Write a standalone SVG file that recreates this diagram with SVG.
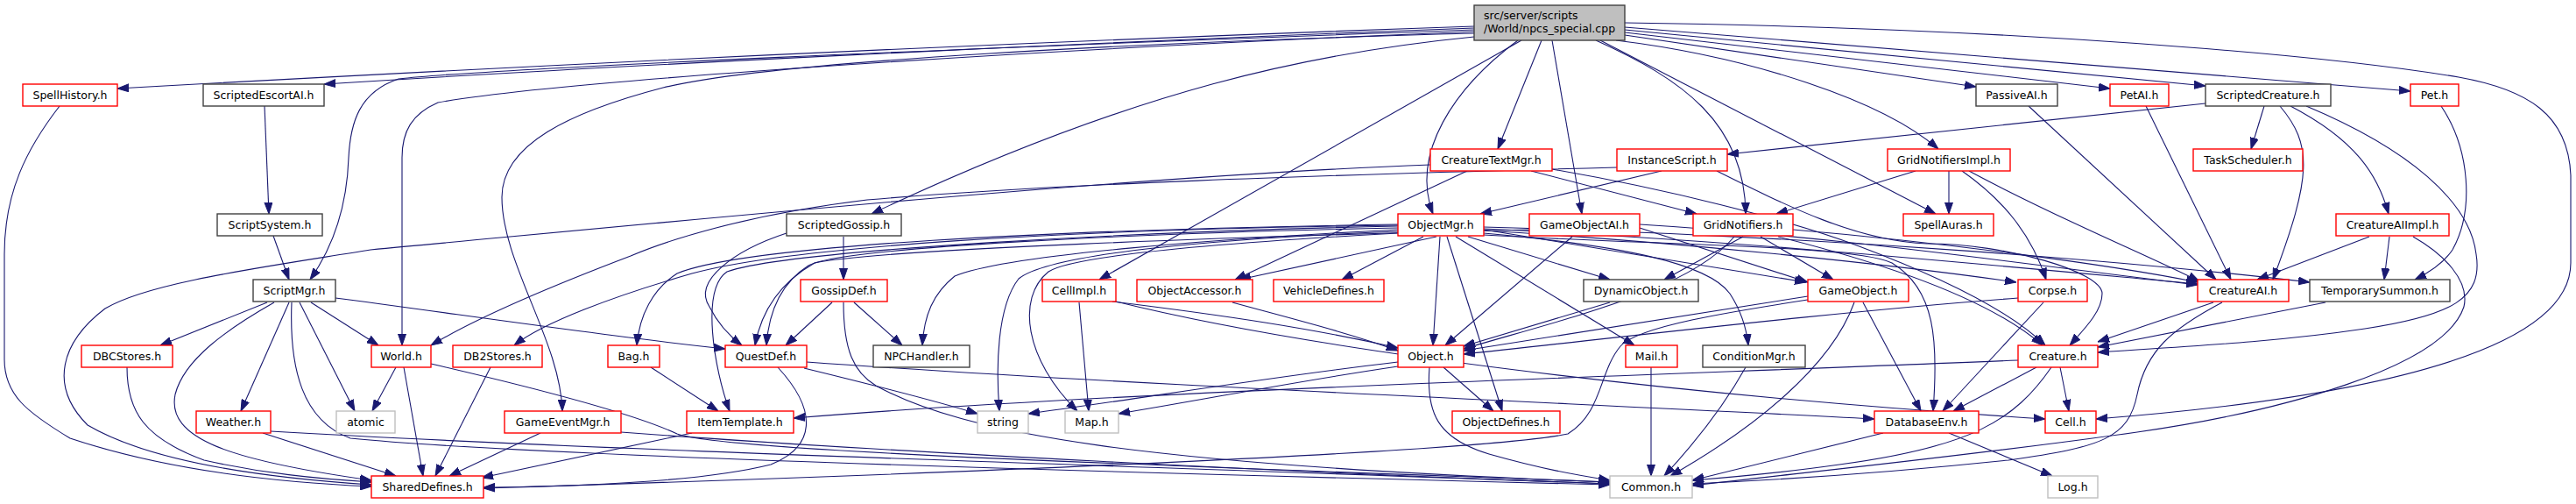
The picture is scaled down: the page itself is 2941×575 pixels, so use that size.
<svg xmlns="http://www.w3.org/2000/svg" width="2941" height="575" viewBox="0 0 2941 575">
<style>
rect{fill:#fff;stroke-width:1.4}
.k{stroke:#404040}.r{stroke:#ff0000}.g{stroke:#bfbfbf}
.root{fill:#bfbfbf;stroke:#404040}
text{font-family:"DejaVu Sans","Liberation Sans",sans-serif;font-size:12.5px;text-anchor:middle;fill:#000}
.lt{text-anchor:start}
#edges path{fill:none;stroke:#191970;stroke-width:1.1;marker-end:url(#a)}
</style>
<defs>
<marker id="a" markerWidth="13" markerHeight="10" refX="13" refY="5" orient="auto" markerUnits="userSpaceOnUse"><path d="M0,0.5 L13,5 L0,9.5 z" fill="#191970" stroke="#191970" stroke-width="1"/></marker>
</defs>
<rect x="0" y="0" width="2941" height="575" style="fill:#fff;stroke:none"/>
<g id="edges">
<path d="M1683,30 C1100,50 600,75 134,101"/>
<path d="M1683,32 C1200,50 700,75 370,96"/>
<path d="M1683,34 C1100,55 560,78 455,90 C410,105 400,140 398,180 C396,240 378,285 354,319"/>
<path d="M1683,36 C1100,60 620,95 500,117 C470,130 459,150 459,180 L459,394"/>
<path d="M1683,38 C1300,48 880,70 757,100 C650,128 573,165 573,225 C573,300 640,390 642,469"/>
<path d="M1683,42 C1500,60 1300,100 995,244"/>
<path d="M1737,46 L1255,319"/>
<path d="M1733,46 C1660,100 1610,175 1636,244"/>
<path d="M1760,46 L1710,170"/>
<path d="M1772,46 L1806,244"/>
<path d="M1822,46 C1920,90 1992,140 1993,244"/>
<path d="M1827,46 L2210,244"/>
<path d="M1845,46 C2000,65 2150,115 2213,170"/>
<path d="M1855,40 L2256,99"/>
<path d="M1855,37 L2409,101"/>
<path d="M1855,34 L2518,98"/>
<path d="M1855,31 L2752,104"/>
<path d="M1855,26 C2300,32 2650,62 2807,88 C2885,102 2932,130 2935,200 L2935,300 C2935,390 2750,450 2393,478"/>
<path d="M68,121 C30,170 5,220 5,290 L5,410 C5,450 30,470 80,500 C200,540 330,551 424,555"/>
<path d="M302,121 L307,244"/>
<path d="M312,269 L330,319"/>
<path d="M1633,188 C1300,200 800,250 423,285 C300,305 170,322 120,352 C70,390 55,440 100,485 C180,532 330,547 424,553"/>
<path d="M1675,195 L1410,319"/>
<path d="M1748,195 L1937,244"/>
<path d="M1772,193 C1900,215 2040,250 2120,280 C2200,310 2290,350 2335,394"/>
<path d="M1846,191 C1500,200 1200,210 990,228 C850,245 760,275 720,292 C620,330 540,365 492,394"/>
<path d="M1897,195 L1690,244"/>
<path d="M1960,195 C2040,235 2120,275 2200,278 C2290,278 2400,310 2400,335 C2400,355 2380,375 2363,394"/>
<path d="M2187,195 L2028,244"/>
<path d="M2225,195 L2225,244"/>
<path d="M2240,195 C2290,230 2320,270 2336,319"/>
<path d="M2248,195 C2350,250 2450,290 2511,321"/>
<path d="M2316,121 L2530,319"/>
<path d="M2450,121 L2547,319"/>
<path d="M2585,121 L2570,170"/>
<path d="M2603,121 C2640,165 2640,200 2595,319"/>
<path d="M2615,121 C2690,160 2715,200 2727,244"/>
<path d="M2633,121 C2750,170 2820,230 2827,290 C2835,340 2800,360 2700,375 C2600,390 2500,395 2395,402"/>
<path d="M2518,118 L1972,176"/>
<path d="M2787,121 C2820,170 2825,240 2800,285 C2790,300 2775,310 2757,319"/>
<path d="M2705,270 L2577,319"/>
<path d="M2728,270 L2722,319"/>
<path d="M2755,270 C2790,290 2820,320 2813,350 C2790,420 2600,470 2440,493 C2250,520 2050,540 1932,554"/>
<path d="M2527,345 L2395,390"/>
<path d="M2537,345 C2480,375 2450,400 2440,450 C2430,500 2400,510 2293,525 C2150,540 2020,548 1932,552"/>
<path d="M2655,345 L2395,396"/>
<path d="M2304,411 C1900,428 1300,445 906,477"/>
<path d="M2325,419 L2230,469"/>
<path d="M2352,419 L2362,469"/>
<path d="M2342,419 C2300,480 2250,510 2100,530 C2030,540 1970,545 1932,548"/>
<path d="M2304,340 C2100,355 1850,385 1671,404"/>
<path d="M2333,345 L2218,469"/>
<path d="M2064,338 L1671,400"/>
<path d="M2127,345 L2193,469"/>
<path d="M2064,342 C1980,355 1870,372 1850,395 C1825,425 1830,470 1790,495 C1700,515 1100,540 552,557"/>
<path d="M2117,345 C2090,420 2000,490 1907,543"/>
<path d="M1838,345 L1671,395"/>
<path d="M1795,270 L1650,394"/>
<path d="M1872,260 L2064,322"/>
<path d="M1872,256 C2100,270 2300,300 2509,325"/>
<path d="M1746,262 C1400,270 1000,285 930,300 C895,320 870,350 862,394"/>
<path d="M1980,270 C1930,330 1800,360 1671,398"/>
<path d="M1990,270 L1900,319"/>
<path d="M2010,270 L2093,319"/>
<path d="M2030,270 C2150,300 2270,340 2332,394"/>
<path d="M2047,262 C2200,275 2400,300 2509,322"/>
<path d="M1596,256 C1200,262 850,280 773,312 C745,330 730,360 727,394"/>
<path d="M1596,260 C1300,266 960,282 923,303 C893,322 878,352 875,394"/>
<path d="M1596,258 C1300,264 900,285 830,310 C800,330 815,420 833,469"/>
<path d="M1596,257 C1200,262 900,282 790,312 C700,338 620,368 587,394"/>
<path d="M1596,262 C1400,272 1150,290 1090,315 C1065,335 1055,360 1053,394"/>
<path d="M1596,264 C1400,272 1200,288 1163,318 C1138,350 1137,420 1141,469"/>
<path d="M1596,266 C1450,274 1230,288 1197,310 C1160,340 1170,410 1230,469"/>
<path d="M1640,270 L1415,319"/>
<path d="M1625,270 L1532,319"/>
<path d="M1644,270 L1636,394"/>
<path d="M1652,270 L1715,469"/>
<path d="M1662,270 L1866,394"/>
<path d="M1676,270 L1838,319"/>
<path d="M1694,266 C1850,280 1950,300 1975,335 C1988,355 1994,375 1996,394"/>
<path d="M1694,262 L2062,322"/>
<path d="M1694,263 C1900,275 2150,300 2302,322"/>
<path d="M1694,261 C2000,275 2300,305 2509,324"/>
<path d="M1694,259 C2100,270 2450,300 2637,322"/>
<path d="M1694,268 C1900,280 2120,280 2160,300 C2210,330 2213,390 2207,469"/>
<path d="M1232,345 L1243,469"/>
<path d="M1270,344 C1400,360 1500,375 1596,397"/>
<path d="M1274,344 C1500,400 1900,450 2335,478"/>
<path d="M1407,345 C1480,365 1540,380 1596,400"/>
<path d="M1596,413 C1450,430 1300,455 1174,472"/>
<path d="M1596,418 C1480,435 1380,455 1277,472"/>
<path d="M1648,419 L1705,469"/>
<path d="M1632,419 C1628,470 1640,500 1700,518 C1760,535 1800,542 1838,548"/>
<path d="M1885,419 L1885,543"/>
<path d="M1993,419 C1970,460 1940,500 1900,543"/>
<path d="M2150,494 L1932,548"/>
<path d="M2225,494 L2343,543"/>
<path d="M452,419 L425,469"/>
<path d="M461,419 L483,543"/>
<path d="M492,415 C600,440 720,470 773,495 C830,515 1300,530 1838,550"/>
<path d="M300,494 L452,543"/>
<path d="M309,492 C700,515 1400,535 1838,552"/>
<path d="M305,345 L183,394"/>
<path d="M313,345 C260,375 210,410 200,450 C190,500 260,525 424,548"/>
<path d="M330,345 L275,469"/>
<path d="M333,345 C330,420 345,480 400,500 C600,520 1300,540 1838,553"/>
<path d="M342,345 L405,469"/>
<path d="M355,345 L432,394"/>
<path d="M383,340 C500,355 700,385 828,398"/>
<path d="M145,419 C145,470 165,500 233,525 C300,540 360,546 424,550"/>
<path d="M560,419 L497,543"/>
<path d="M617,494 L513,543"/>
<path d="M709,493 C1000,515 1500,540 1838,552"/>
<path d="M790,494 L550,545"/>
<path d="M743,419 L820,469"/>
<path d="M888,419 C935,470 930,510 880,530 C800,550 650,555 552,556"/>
<path d="M921,413 C1300,440 1800,460 2140,478"/>
<path d="M918,420 C1000,440 1060,455 1116,472"/>
<path d="M950,345 L897,394"/>
<path d="M975,345 L1030,394"/>
<path d="M963,345 C963,400 975,425 1000,440 C1100,495 1300,530 1838,550"/>
<path d="M963,270 L963,319"/>
<path d="M898,266 C840,285 790,320 810,350 C820,370 835,385 847,394"/>
</g>
<g id="n_root"><rect class="root" x="1683" y="6" width="172" height="40"/><text class="lt" x="1694" y="22">src/server/scripts</text><text class="lt" x="1694" y="37">/World/npcs_special.cpp</text></g>
<g id="n_SpellHistory"><rect class="r" x="26" y="96" width="108" height="25"/><text x="80" y="112.5">SpellHistory.h</text></g>
<g id="n_ScriptedEscortAI"><rect class="k" x="232" y="96" width="138" height="25"/><text x="301" y="112.5">ScriptedEscortAI.h</text></g>
<g id="n_PassiveAI"><rect class="k" x="2256" y="96" width="93" height="25"/><text x="2302.5" y="112.5">PassiveAI.h</text></g>
<g id="n_PetAI"><rect class="r" x="2409" y="96" width="67" height="25"/><text x="2442.5" y="112.5">PetAI.h</text></g>
<g id="n_ScriptedCreature"><rect class="k" x="2518" y="96" width="143" height="25"/><text x="2589.5" y="112.5">ScriptedCreature.h</text></g>
<g id="n_Pet"><rect class="r" x="2752" y="96" width="55" height="25"/><text x="2779.5" y="112.5">Pet.h</text></g>
<g id="n_CreatureTextMgr"><rect class="r" x="1633" y="170" width="139" height="25"/><text x="1702.5" y="186.5">CreatureTextMgr.h</text></g>
<g id="n_InstanceScript"><rect class="r" x="1846" y="170" width="126" height="25"/><text x="1909" y="186.5">InstanceScript.h</text></g>
<g id="n_GridNotifiersImpl"><rect class="r" x="2155" y="170" width="140" height="25"/><text x="2225" y="186.5">GridNotifiersImpl.h</text></g>
<g id="n_TaskScheduler"><rect class="r" x="2504" y="170" width="125" height="25"/><text x="2566.5" y="186.5">TaskScheduler.h</text></g>
<g id="n_ScriptSystem"><rect class="k" x="248" y="244" width="120" height="25"/><text x="308" y="260.5">ScriptSystem.h</text></g>
<g id="n_ScriptedGossip"><rect class="k" x="898" y="244" width="131" height="25"/><text x="963.5" y="260.5">ScriptedGossip.h</text></g>
<g id="n_ObjectMgr"><rect class="r" x="1596" y="244" width="98" height="25"/><text x="1645" y="260.5">ObjectMgr.h</text></g>
<g id="n_GameObjectAI"><rect class="r" x="1746" y="244" width="126" height="25"/><text x="1809" y="260.5">GameObjectAI.h</text></g>
<g id="n_GridNotifiers"><rect class="r" x="1933" y="244" width="114" height="25"/><text x="1990" y="260.5">GridNotifiers.h</text></g>
<g id="n_SpellAuras"><rect class="r" x="2173" y="244" width="103" height="25"/><text x="2224.5" y="260.5">SpellAuras.h</text></g>
<g id="n_CreatureAIImpl"><rect class="r" x="2667" y="244" width="129" height="25"/><text x="2731.5" y="260.5">CreatureAIImpl.h</text></g>
<g id="n_ScriptMgr"><rect class="k" x="289" y="319" width="94" height="25"/><text x="336" y="335.5">ScriptMgr.h</text></g>
<g id="n_GossipDef"><rect class="r" x="914" y="319" width="99" height="25"/><text x="963.5" y="335.5">GossipDef.h</text></g>
<g id="n_CellImpl"><rect class="r" x="1190" y="319" width="84" height="25"/><text x="1232" y="335.5">CellImpl.h</text></g>
<g id="n_ObjectAccessor"><rect class="r" x="1298" y="319" width="132" height="25"/><text x="1364" y="335.5">ObjectAccessor.h</text></g>
<g id="n_VehicleDefines"><rect class="r" x="1454" y="319" width="126" height="25"/><text x="1517" y="335.5">VehicleDefines.h</text></g>
<g id="n_DynamicObject"><rect class="k" x="1808" y="319" width="131" height="25"/><text x="1873.5" y="335.5">DynamicObject.h</text></g>
<g id="n_GameObject"><rect class="r" x="2064" y="319" width="115" height="25"/><text x="2121.5" y="335.5">GameObject.h</text></g>
<g id="n_Corpse"><rect class="r" x="2304" y="319" width="79" height="25"/><text x="2343.5" y="335.5">Corpse.h</text></g>
<g id="n_CreatureAI"><rect class="r" x="2509" y="319" width="104" height="25"/><text x="2561" y="335.5">CreatureAI.h</text></g>
<g id="n_TemporarySummon"><rect class="k" x="2637" y="319" width="160" height="25"/><text x="2717" y="335.5">TemporarySummon.h</text></g>
<g id="n_DBCStores"><rect class="r" x="93" y="394" width="104" height="25"/><text x="145" y="410.5">DBCStores.h</text></g>
<g id="n_World"><rect class="r" x="424" y="394" width="68" height="25"/><text x="458" y="410.5">World.h</text></g>
<g id="n_DB2Stores"><rect class="r" x="517" y="394" width="102" height="25"/><text x="568" y="410.5">DB2Stores.h</text></g>
<g id="n_Bag"><rect class="r" x="694" y="394" width="59" height="25"/><text x="723.5" y="410.5">Bag.h</text></g>
<g id="n_QuestDef"><rect class="r" x="828" y="394" width="93" height="25"/><text x="874.5" y="410.5">QuestDef.h</text></g>
<g id="n_NPCHandler"><rect class="k" x="997" y="394" width="110" height="25"/><text x="1052" y="410.5">NPCHandler.h</text></g>
<g id="n_Object"><rect class="r" x="1596" y="394" width="75" height="25"/><text x="1633.5" y="410.5">Object.h</text></g>
<g id="n_Mail"><rect class="r" x="1856" y="394" width="59" height="25"/><text x="1885.5" y="410.5">Mail.h</text></g>
<g id="n_ConditionMgr"><rect class="k" x="1944" y="394" width="117" height="25"/><text x="2002.5" y="410.5">ConditionMgr.h</text></g>
<g id="n_Creature"><rect class="r" x="2304" y="394" width="91" height="25"/><text x="2349.5" y="410.5">Creature.h</text></g>
<g id="n_Weather"><rect class="r" x="224" y="469" width="85" height="25"/><text x="266.5" y="485.5">Weather.h</text></g>
<g id="n_atomic"><rect class="g" x="384" y="469" width="67" height="25"/><text x="417.5" y="485.5">atomic</text></g>
<g id="n_GameEventMgr"><rect class="r" x="576" y="469" width="133" height="25"/><text x="642.5" y="485.5">GameEventMgr.h</text></g>
<g id="n_ItemTemplate"><rect class="r" x="784" y="469" width="122" height="25"/><text x="845" y="485.5">ItemTemplate.h</text></g>
<g id="n_string"><rect class="g" x="1116" y="469" width="58" height="25"/><text x="1145" y="485.5">string</text></g>
<g id="n_Map"><rect class="g" x="1216" y="469" width="61" height="25"/><text x="1246.5" y="485.5">Map.h</text></g>
<g id="n_ObjectDefines"><rect class="r" x="1658" y="469" width="123" height="25"/><text x="1719.5" y="485.5">ObjectDefines.h</text></g>
<g id="n_DatabaseEnv"><rect class="r" x="2140" y="469" width="119" height="25"/><text x="2199.5" y="485.5">DatabaseEnv.h</text></g>
<g id="n_Cell"><rect class="r" x="2335" y="469" width="58" height="25"/><text x="2364" y="485.5">Cell.h</text></g>
<g id="n_SharedDefines"><rect class="r" x="424" y="543" width="128" height="25"/><text x="488" y="559.5">SharedDefines.h</text></g>
<g id="n_Common"><rect class="g" x="1838" y="543" width="94" height="25"/><text x="1885" y="559.5">Common.h</text></g>
<g id="n_Log"><rect class="g" x="2338" y="543" width="57" height="25"/><text x="2366.5" y="559.5">Log.h</text></g>
</svg>
